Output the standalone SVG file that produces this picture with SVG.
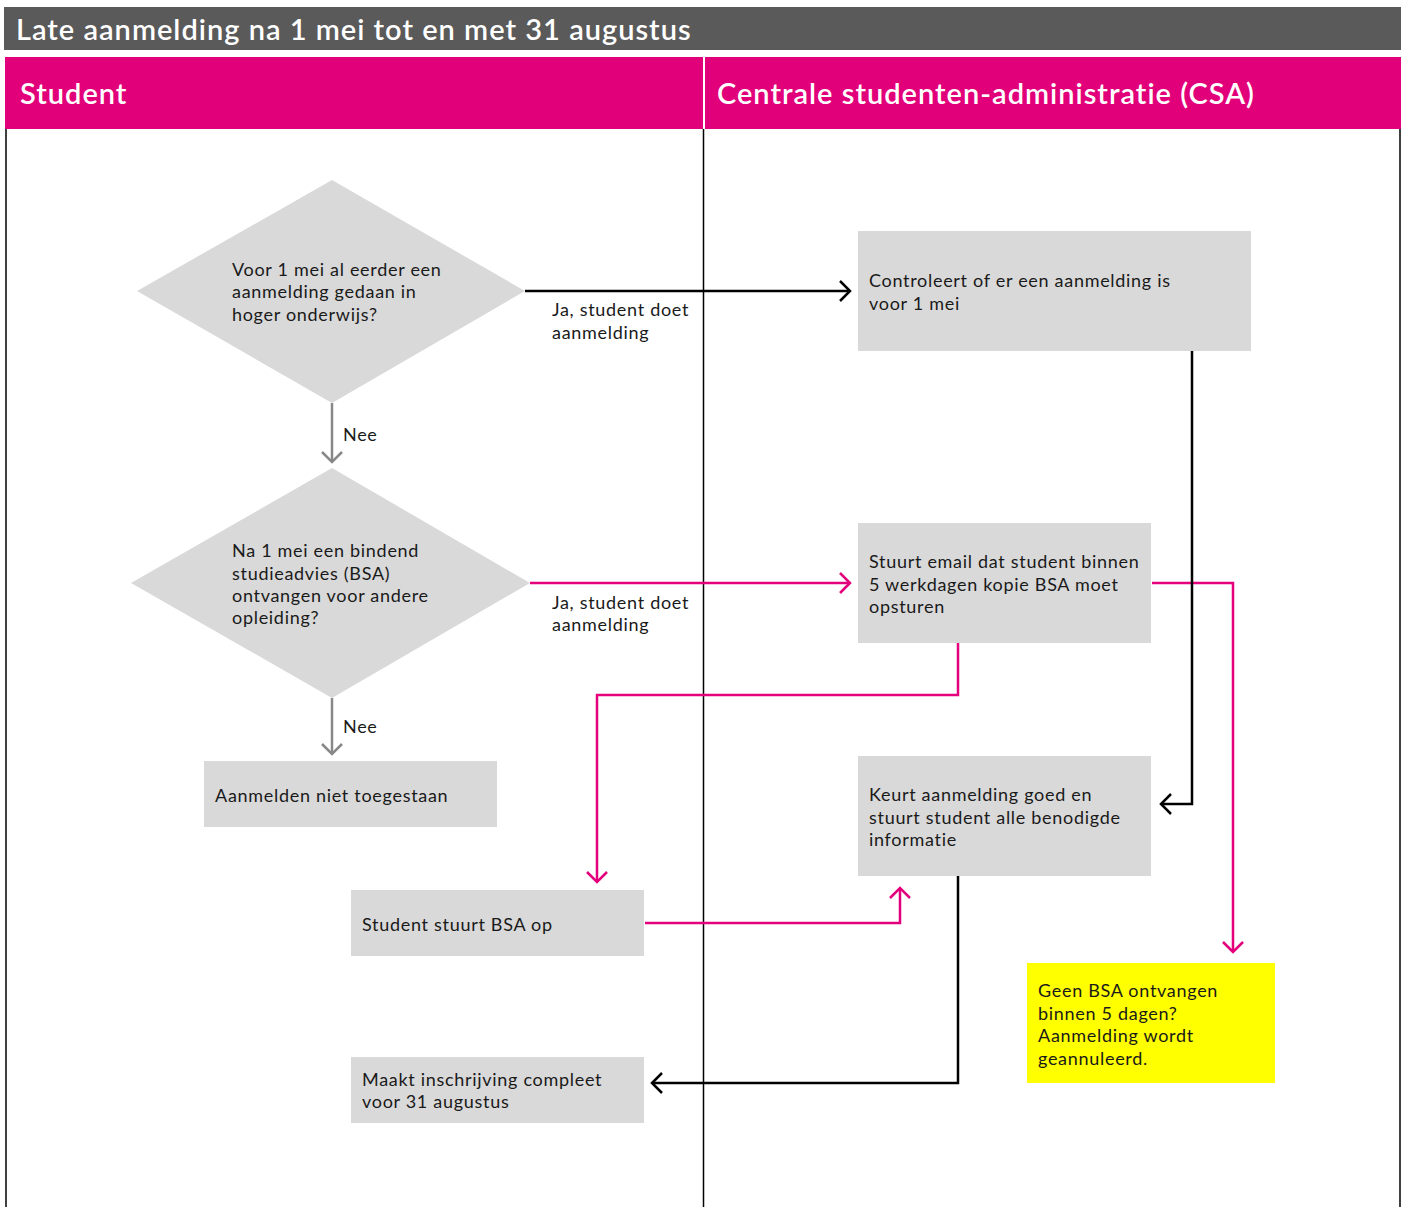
<svg xmlns="http://www.w3.org/2000/svg" width="1405" height="1207" viewBox="0 0 1405 1207">
<style>
.hdr{font-family:Lato,"Noto Sans",sans-serif;fill:#fff;font-weight:600;font-size:29px;letter-spacing:1px}
.t{font-family:Lato,"Noto Sans",sans-serif;font-size:18px;letter-spacing:0.7px;fill:#1a1a1a}
.box{fill:#d9d9d9}
.k{fill:none;stroke:#000;stroke-width:2.5}
.p{fill:none;stroke:#e4007c;stroke-width:2.5}
.g{fill:none;stroke:#888;stroke-width:2.5}
.lane{stroke:#000;stroke-width:1.5}
</style>
<defs>
<marker id="ak" markerWidth="14" markerHeight="22" refX="12" refY="11" orient="auto" markerUnits="userSpaceOnUse"><path d="M2,1 L12,11 L2,21" fill="none" stroke="#000" stroke-width="2.5"/></marker>
<marker id="ap" markerWidth="14" markerHeight="22" refX="12" refY="11" orient="auto" markerUnits="userSpaceOnUse"><path d="M2,1 L12,11 L2,21" fill="none" stroke="#e4007c" stroke-width="2.5"/></marker>
<marker id="ag" markerWidth="14" markerHeight="22" refX="12" refY="11" orient="auto" markerUnits="userSpaceOnUse"><path d="M2,1 L12,11 L2,21" fill="none" stroke="#888" stroke-width="2.5"/></marker>
</defs>
<rect width="1405" height="1207" fill="#fff"/>
<g id="title">
<rect x="4" y="7" width="1397" height="43" fill="#5a5a5a"/>
<text class="hdr" x="16" y="40">Late aanmelding na 1 mei tot en met 31 augustus</text>
</g>
<g id="lanes">
<rect x="5" y="57" width="1396" height="72" fill="#e2007a"/>
<line x1="704" y1="57" x2="704" y2="129" stroke="#fff" stroke-width="2"/>
<text class="hdr" x="20" y="104">Student</text>
<text class="hdr" x="717" y="104">Centrale studenten-administratie (CSA)</text>
<line class="lane" x1="6" y1="129" x2="6" y2="1207"/>
<line class="lane" x1="703.5" y1="129" x2="703.5" y2="1207"/>
<line class="lane" x1="1400" y1="129" x2="1400" y2="1207"/>
</g>
<g id="connectors">
<path class="k" d="M525,291 H850" marker-end="url(#ak)"/>
<path class="g" d="M332,403 V462" marker-end="url(#ag)"/>
<path class="p" d="M530,583 H850" marker-end="url(#ap)"/>
<path class="g" d="M332,698 V754" marker-end="url(#ag)"/>
<path class="p" d="M1152,583 H1233 V952" marker-end="url(#ap)"/>
<path class="p" d="M958,643 V695 H597 V882" marker-end="url(#ap)"/>
<path class="k" d="M1192,351 V804 H1161" marker-end="url(#ak)"/>
<path class="p" d="M645,923 H900 V888" marker-end="url(#ap)"/>
<path class="k" d="M958,876 V1083 H652" marker-end="url(#ak)"/>
<text class="t" x="552" y="316">Ja, student doet</text>
<text class="t" x="552" y="339">aanmelding</text>
<text class="t" x="343" y="441">Nee</text>
<text class="t" x="552" y="609">Ja, student doet</text>
<text class="t" x="552" y="631">aanmelding</text>
<text class="t" x="343" y="733">Nee</text>
</g>
<g id="d1">
<polygon class="box" points="332,180 525,291 332,403 137,291"/>
<text class="t" x="232" y="276">Voor 1 mei al eerder een</text>
<text class="t" x="232" y="298">aanmelding gedaan in</text>
<text class="t" x="232" y="321">hoger onderwijs?</text>
</g>
<g id="d2">
<polygon class="box" points="332,468 530,583 332,698 131,583"/>
<text class="t" x="232" y="557">Na 1 mei een bindend</text>
<text class="t" x="232" y="580">studieadvies (BSA)</text>
<text class="t" x="232" y="602">ontvangen voor andere</text>
<text class="t" x="232" y="624">opleiding?</text>
</g>
<g id="b1">
<rect class="box" x="858" y="231" width="393" height="120"/>
<text class="t" x="869" y="287">Controleert of er een aanmelding is</text>
<text class="t" x="869" y="310">voor 1 mei</text>
</g>
<g id="b2">
<rect class="box" x="858" y="523" width="293" height="120"/>
<text class="t" x="869" y="568">Stuurt email dat student binnen</text>
<text class="t" x="869" y="591">5 werkdagen kopie BSA moet</text>
<text class="t" x="869" y="613">opsturen</text>
</g>
<g id="b3">
<rect class="box" x="204" y="761" width="293" height="66"/>
<text class="t" x="215" y="802">Aanmelden niet toegestaan</text>
</g>
<g id="b4">
<rect class="box" x="858" y="756" width="293" height="120"/>
<text class="t" x="869" y="801">Keurt aanmelding goed en</text>
<text class="t" x="869" y="824">stuurt student alle benodigde</text>
<text class="t" x="869" y="846">informatie</text>
</g>
<g id="b5">
<rect class="box" x="351" y="890" width="293" height="66"/>
<text class="t" x="362" y="931">Student stuurt BSA op</text>
</g>
<g id="b6">
<rect x="1027" y="963" width="248" height="120" fill="#ffff00"/>
<text class="t" x="1038" y="997">Geen BSA ontvangen</text>
<text class="t" x="1038" y="1020">binnen 5 dagen?</text>
<text class="t" x="1038" y="1042">Aanmelding wordt</text>
<text class="t" x="1038" y="1065">geannuleerd.</text>
</g>
<g id="b7">
<rect class="box" x="351" y="1057" width="293" height="66"/>
<text class="t" x="362" y="1086">Maakt inschrijving compleet</text>
<text class="t" x="362" y="1108">voor 31 augustus</text>
</g>
</svg>
